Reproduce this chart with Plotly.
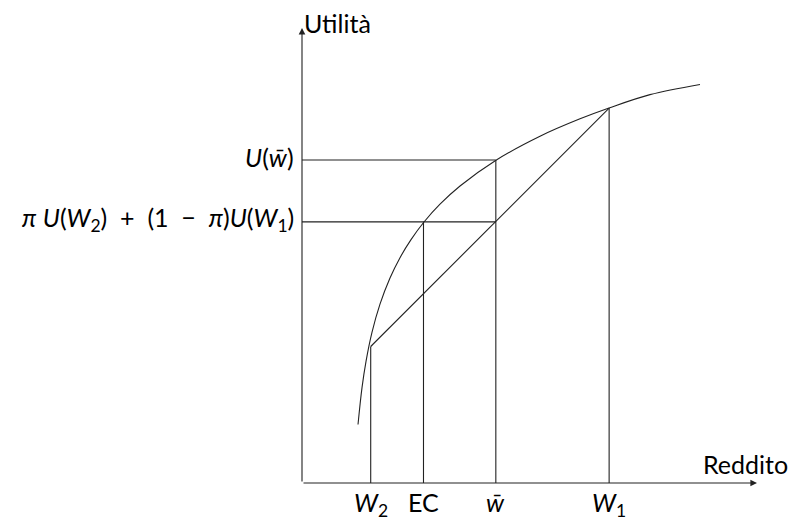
import plotly.graph_objects as go

# Key points (data units)
W2, EC, WBAR, W1 = 1.51, 2.67, 4.26, 6.75
U_W2, EU, U_WBAR, U_W1 = 3.00, 5.74, 7.10, 8.24

# Utility curve
curve_x = [1.231, 1.319, 1.407, 1.538, 1.714, 1.934, 2.154, 2.396, 2.681, 3.033,
           3.473, 4.264, 5.231, 6.110, 6.747, 7.648, 8.747]
curve_y = [1.286, 2.097, 2.673, 3.310, 3.930, 4.505, 4.952, 5.349, 5.736, 6.127,
           6.527, 7.095, 7.622, 8.004, 8.242, 8.536, 8.760]

x_tick_vals = [W2, EC, WBAR, W1]
x_tick_text = ["<i>W</i><sub>2</sub>", "EC", "<i>w̄</i>", "<i>W</i><sub>1</sub>"]
y_tick_vals = [U_WBAR, EU]
y_tick_text = ["<i>U</i>(<i>w̄</i>)",
               "<i>π</i> <i>U</i>(<i>W</i><sub>2</sub>)  +  (1  −  <i>π</i>)<i>U</i>(<i>W</i><sub>1</sub>)"]
x_axis_title = "Reddito"
y_axis_title = "Utilità"
X_MAX, Y_MAX = 10, 10

FONT = "Lato"
FS = 25
LC = "#222222"

fig = go.Figure()

def seg(xs, ys, color=LC, w=1.1, shape="linear"):
    fig.add_trace(go.Scatter(x=xs, y=ys, mode="lines",
                             line=dict(color=color, width=w, shape=shape, smoothing=1.0),
                             hoverinfo="skip", showlegend=False, cliponaxis=False))

seg(curve_x, curve_y, shape="spline")
seg([W2, W1], [U_W2, U_W1])
for xv, yv in [(W2, U_W2), (EC, EU), (WBAR, U_WBAR), (W1, U_W1)]:
    seg([xv, xv], [0, yv])
seg([0, WBAR], [U_WBAR, U_WBAR])
seg([0, WBAR], [EU, EU])

annotations = []
# axes with arrows
annotations.append(dict(x=X_MAX, y=0, ax=0, ay=0, xref="x", yref="y", axref="x", ayref="y",
                        text="", showarrow=True, arrowhead=2, arrowsize=1.2, arrowwidth=1.1,
                        arrowcolor=LC, standoff=0))
annotations.append(dict(x=0, y=Y_MAX, ax=0, ay=0, xref="x", yref="y", axref="x", ayref="y",
                        text="", showarrow=True, arrowhead=2, arrowsize=1.2, arrowwidth=1.1,
                        arrowcolor=LC, standoff=0))
# tick labels
for xv, t in zip(x_tick_vals, x_tick_text):
    annotations.append(dict(x=xv, y=0, xref="x", yref="y", text=t, showarrow=False,
                            xanchor="center", yanchor="top", yshift=-2,
                            font=dict(family=FONT, size=FS, color="black")))
for yv, t in zip(y_tick_vals, y_tick_text):
    annotations.append(dict(x=0, y=yv, xref="x", yref="y", text=t, showarrow=False,
                            xanchor="right", yanchor="middle", xshift=-6, yshift=3,
                            font=dict(family=FONT, size=FS, color="black")))
annotations.append(dict(x=X_MAX, y=0, xref="x", yref="y", text=x_axis_title, showarrow=False,
                        xanchor="center", yanchor="bottom", yshift=2, xshift=-12,
                        font=dict(family=FONT, size=FS, color="black")))
annotations.append(dict(x=0, y=Y_MAX, xref="x", yref="y", text=y_axis_title, showarrow=False,
                        xanchor="left", yanchor="middle", xshift=0, yshift=5,
                        font=dict(family=FONT, size=FS, color="black")))

fig.update_layout(
    width=796, height=524,
    margin=dict(l=302, r=39, t=28, b=41),
    paper_bgcolor="white", plot_bgcolor="white",
    xaxis=dict(range=[0, X_MAX], visible=False, fixedrange=True),
    yaxis=dict(range=[0, Y_MAX], visible=False, fixedrange=True),
    annotations=annotations,
    showlegend=False,
)

fig.write_html("out.html")
